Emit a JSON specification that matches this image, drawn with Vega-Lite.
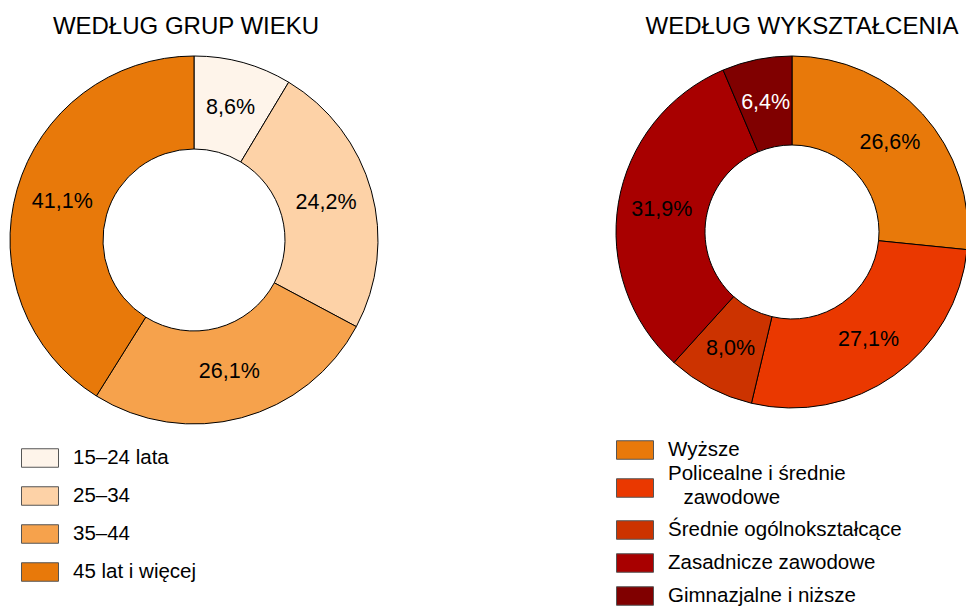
{
  "$schema": "https://vega.github.io/schema/vega-lite/v6.json",
  "padding": {"left": 0, "top": 15, "right": 0, "bottom": 0},
  "spacing": 226,
  "resolve": {"scale": {"color": "independent"}, "legend": {"color": "independent"}},
  "config": {
    "font": "Liberation Sans",
    "view": {"stroke": null},
    "locale": {"number": {"decimal": ",", "thousands": " ", "grouping": [3], "currency": ["", " zł"]}},
    "legend": {
      "orient": "none",
      "title": null,
      "symbolType": "M-1,-0.5H1V0.5H-1Z",
      "symbolSize": 1369,
      "symbolStrokeColor": "#555555",
      "symbolStrokeWidth": 1,
      "symbolOpacity": 1,
      "labelFontSize": 20.5,
      "labelColor": "#000000",
      "labelOffset": 14,
      "labelLimit": 400,
      "rowPadding": 7,
      "padding": 0
    },
    "title": {"fontSize": 24, "fontWeight": "normal", "color": "#000000", "offset": 15, "anchor": "middle"}
  },
  "datasets": {
    "wiek": [
      {"k": "15–24 lata", "v": 0.086, "o": 1},
      {"k": "25–34", "v": 0.242, "o": 2},
      {"k": "35–44", "v": 0.261, "o": 3},
      {"k": "45 lat i więcej", "v": 0.411, "o": 4}
    ],
    "wyk": [
      {"k": "Wyższe", "v": 0.266, "o": 1},
      {"k": "Policealne i średnie zawodowe", "v": 0.271, "o": 2},
      {"k": "Średnie ogólnokształcące", "v": 0.080, "o": 3},
      {"k": "Zasadnicze zawodowe", "v": 0.319, "o": 4},
      {"k": "Gimnazjalne i niższe", "v": 0.064, "o": 5}
    ]
  },
  "hconcat": [
    {
      "title": {"text": "WEDŁUG GRUP WIEKU", "dx": -8},
      "width": 388,
      "height": 368,
      "data": {"name": "wiek"},
      "encoding": {
        "theta": {"field": "v", "type": "quantitative", "stack": true},
        "order": {"field": "o", "type": "quantitative"}
      },
      "layer": [
        {
          "mark": {"type": "arc", "innerRadius": 91, "outerRadius": 184, "stroke": "#000000", "strokeWidth": 1},
          "encoding": {
            "color": {
              "field": "k", "type": "nominal",
              "scale": {
                "domain": ["15–24 lata", "25–34", "35–44", "45 lat i więcej"],
                "range": ["#FEF4EA", "#FDD2A7", "#F6A24C", "#E8790A"]
              },
              "legend": {"legendX": 21, "legendY": 383}
            }
          }
        },
        {
          "mark": {"type": "text", "radius": 137, "fontSize": 21.5, "color": "#000000"},
          "encoding": {
            "text": {"field": "v", "type": "quantitative", "format": ".1%"}
          }
        }
      ]
    },
    {
      "title": {"text": "WEDŁUG WYKSZTAŁCENIA", "dx": 10},
      "width": 352,
      "height": 352,
      "data": {"name": "wyk"},
      "encoding": {
        "theta": {"field": "v", "type": "quantitative", "stack": true},
        "order": {"field": "o", "type": "quantitative"}
      },
      "layer": [
        {
          "mark": {"type": "arc", "innerRadius": 87, "outerRadius": 176, "stroke": "#000000", "strokeWidth": 1},
          "encoding": {
            "color": {
              "field": "k", "type": "nominal",
              "scale": {
                "domain": ["Wyższe", "Policealne i średnie zawodowe", "Średnie ogólnokształcące", "Zasadnicze zawodowe", "Gimnazjalne i niższe"],
                "range": ["#E8790A", "#EA3800", "#CC3300", "#A80000", "#800000"]
              },
              "legend": {
                "legendX": 0,
                "legendY": 375,
                "rowPadding": 2,
                "labelExpr": "datum.label == 'Policealne i średnie zawodowe' ? ['Policealne i średnie', '\u200b\u2002\u2005zawodowe'] : datum.label",
                "encode": {"labels": {"update": {
                  "lineHeight": {"value": 24},
                  "dy": {"signal": "datum.value == 'Policealne i średnie zawodowe' ? -14 : 0"}
                }}}
              }
            }
          }
        },
        {
          "mark": {"type": "text", "radius": 132, "fontSize": 21.5},
          "encoding": {
            "text": {"field": "v", "type": "quantitative", "format": ".1%"},
            "color": {
              "condition": {"test": "datum.k === 'Gimnazjalne i niższe'", "value": "#FFFFFF"},
              "value": "#000000"
            }
          }
        }
      ]
    }
  ]
}
